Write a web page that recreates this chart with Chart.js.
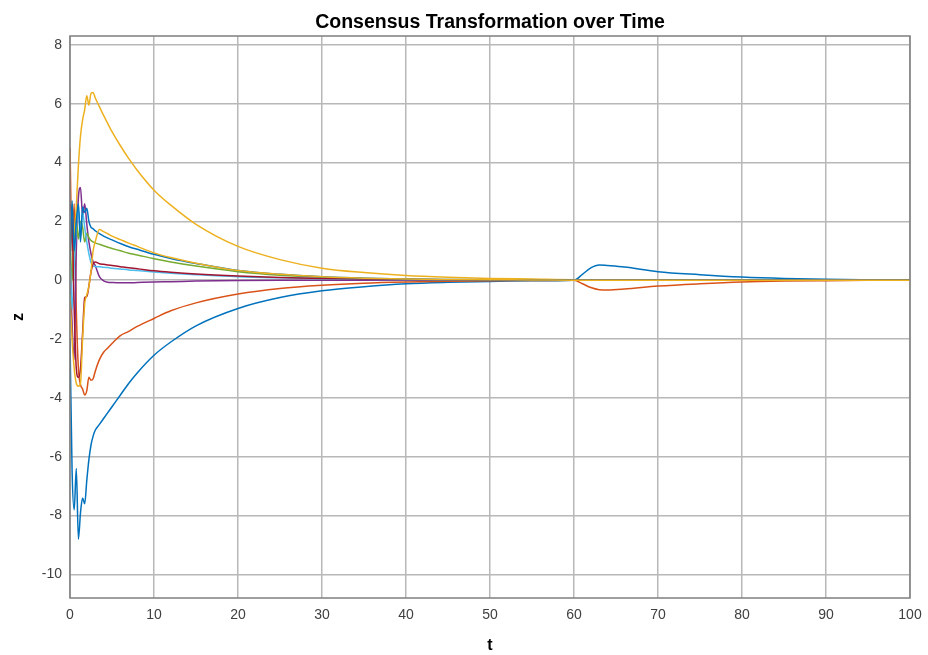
<!DOCTYPE html>
<html>
<head>
<meta charset="utf-8">
<title>Consensus Transformation over Time</title>
<script src="https://cdn.jsdelivr.net/npm/chart.js@4.4.0/dist/chart.umd.min.js"></script>
<style>
    html, body { margin: 0; padding: 0; background: #fff; }
    canvas { display: block; }
</style>
</head>
<body>
<canvas id="consensusChart" width="928" height="655"></canvas>
<script>
// sample times (dense at the start, where everything jumps around)
const t = [0, 0.25, 0.5, 0.75, 1, 1.25, 1.5, 1.75, 2, 2.25,
           2.5, 2.75, 3, 3.5, 4, 4.5, 5, 6, 7, 8,
           10, 12, 15, 20, 25, 30, 35, 40, 45, 50,
           55, 60, 61, 62, 63, 64, 66, 70, 75, 80,
           85, 90, 95, 100];

// values, one list per agent
const zBlue1 = [-2.0, -6.5, -7.8, -6.4, -8.8, -7.9, -7.4, -7.6, -6.8, -6.1,
                -5.6, -5.3, -5.1, -4.9, -4.7, -4.5, -4.3, -3.9, -3.5, -3.15,
                -2.55, -2.1, -1.55, -0.96, -0.59, -0.36, -0.22, -0.12, -0.07, -0.04,
                -0.02, 0, 0.2, 0.42, 0.52, 0.5, 0.45, 0.29, 0.19, 0.11,
                0.06, 0.03, 0.015, 0.005];
const zOrange = [4.5, 1.0, 2.6, -1.0, -3.0, -3.55, -3.7, -3.9, -3.75, -3.3,
                 -3.4, -3.35, -3.1, -2.7, -2.45, -2.3, -2.15, -1.88, -1.74, -1.57,
                 -1.3, -1.04, -0.77, -0.47, -0.28, -0.17, -0.1, -0.06, -0.035, -0.02,
                 -0.01, 0, -0.12, -0.25, -0.32, -0.33, -0.3, -0.2, -0.12, -0.06,
                 -0.03, -0.015, -0.005, 0];
const zYellow1 = [-0.5, 0.2, 1.5, 2.5, 3.9, 4.9, 5.45, 5.8, 6.27, 5.95,
                  6.35, 6.38, 6.2, 5.9, 5.6, 5.32, 5.05, 4.57, 4.13, 3.74,
                  3.06, 2.55, 1.9, 1.15, 0.7, 0.41, 0.26, 0.16, 0.1, 0.06,
                  0.04, 0.02, 0.02, 0.02, 0.02, 0.02, 0.015, 0.01, 0.005, 0,
                  0, 0, 0, 0];
const zPurple = [0.5, -1.5, -2.7, 1.0, 2.8, 3.15, 2.2, 2.6, 1.9, 1.3,
                 0.9, 0.62, 0.5, 0.12, -0.02, -0.07, -0.08, -0.09, -0.09, -0.08,
                 -0.06, -0.05, -0.03, -0.01, 0, 0, 0, 0, 0, 0,
                 0, 0, 0, 0, 0, 0, 0, 0, 0, 0,
                 0, 0, 0, 0];
const zGreen = [1.5, 0.0, 1.0, 2.0, 1.4, 2.0, 1.8, 1.3, 1.6, 1.45,
                1.35, 1.3, 1.27, 1.22, 1.17, 1.12, 1.08, 1.0, 0.92, 0.86,
                0.73, 0.62, 0.48, 0.29, 0.17, 0.1, 0.06, 0.035, 0.02, 0.01,
                0.005, 0, 0, 0, 0, 0, 0, 0, 0, 0,
                0, 0, 0, 0];
const zCyan = [1.0, -1.0, 0.5, 1.8, 2.4, 1.5, 2.3, 1.8, 1.3, 0.9,
               0.6, 0.48, 0.47, 0.46, 0.44, 0.43, 0.41, 0.38, 0.35, 0.33,
               0.28, 0.24, 0.19, 0.12, 0.08, 0.05, 0.03, 0.02, 0.01, 0.005,
               0, 0, 0, 0, 0, 0, 0, 0, 0, 0,
               0, 0, 0, 0];
const zDarkRed = [2.6, 2.0, -1.0, -3.0, -3.3, -3.0, -1.8, -0.6, -0.55, -0.2,
                  0.28, 0.56, 0.62, 0.56, 0.54, 0.52, 0.5, 0.46, 0.42, 0.39,
                  0.32, 0.27, 0.21, 0.14, 0.09, 0.06, 0.04, 0.025, 0.015, 0.01,
                  0.005, 0, 0, 0, 0, 0, 0, 0, 0, 0,
                  0, 0, 0, 0];
const zBlue2 = [0.5, 2.7, 1.0, 2.0, 2.6, 1.3, 2.5, 2.3, 2.45, 2.0,
                1.8, 1.75, 1.68, 1.58, 1.5, 1.43, 1.37, 1.25, 1.14, 1.05,
                0.88, 0.74, 0.57, 0.33, 0.2, 0.12, 0.07, 0.04, 0.025, 0.015,
                0.01, 0, 0, 0, 0, 0, 0, 0, 0, 0,
                0, 0, 0, 0];
const zYellow2 = [-0.5, -2.0, -3.0, -3.5, -3.6, -3.5, -2.0, -0.8, -0.5, -0.2,
                  0.3, 1.0, 1.3, 1.72, 1.65, 1.58, 1.5, 1.38, 1.26, 1.15,
                  0.93, 0.77, 0.58, 0.33, 0.2, 0.12, 0.07, 0.04, 0.025, 0.015,
                  0.01, 0, 0, 0, 0, 0, 0, 0, 0, 0,
                  0, 0, 0, 0];

const series = [zBlue1, zOrange, zYellow1, zPurple, zGreen, zCyan, zDarkRed, zBlue2, zYellow2];
const seriesColors = ['#0072BD', '#D95319', '#EDB120', '#7E2F8E', '#77AC30', '#4DBEEE', '#A2142F', '#0072BD', '#EDB120'];

const xTicks = [0, 10, 20, 30, 40, 50, 60, 70, 80, 90, 100];
const yTicks = [-10, -8, -6, -4, -2, 0, 2, 4, 6, 8];

const FONT = "'Liberation Sans', Arial, Helvetica, sans-serif";
const GRID = '#b8b8b8';
const TICK_TEXT = '#404040';

// box around the axes + the title, drawn on top like matlab does
const axesFrame = {
    id: 'axesFrame',
    afterDraw(chart) {
        const { ctx, chartArea: a } = chart;
        ctx.save();
        ctx.strokeStyle = '#7f7f7f';
        ctx.lineWidth = 1.5;
        ctx.strokeRect(a.left, a.top, a.right - a.left, a.bottom - a.top);

        ctx.fillStyle = '#000';
        ctx.font = `bold 19.5px ${FONT}`;
        ctx.textAlign = 'center';
        ctx.textBaseline = 'alphabetic';
        ctx.fillText('Consensus Transformation over Time', (a.left + a.right) / 2, 28);
        ctx.restore();
    }
};

function buildDatasets() {
    return series.map((values, i) => ({
        data: values.map((v, k) => ({ x: t[k], y: v })),
        borderColor: seriesColors[i],
        borderWidth: 1.5,
        pointRadius: 0,
        fill: false,
        cubicInterpolationMode: 'monotone',
        // later series on top, as in the original
        order: series.length - i
    }));
}

function init() {
    const ctx = document.getElementById('consensusChart').getContext('2d');
    new Chart(ctx, {
        type: 'line',
        data: { datasets: buildDatasets() },
        options: {
            responsive: false,
            animation: false,
            layout: { padding: { top: 36, right: 18, left: 0, bottom: 0 } },
            plugins: { legend: { display: false }, tooltip: { enabled: false }, title: { display: false } },
            scales: {
                x: {
                    type: 'linear',
                    min: 0,
                    max: 100,
                    afterBuildTicks: (s) => { s.ticks = xTicks.map(v => ({ value: v })); },
                    afterFit: (s) => {
                        s.height = 57;
                        // the "100" label may hang over, don't let it shrink the plot
                        s.paddingLeft = 0;
                        s.paddingRight = 0;
                    },
                    grid: { color: GRID, lineWidth: 1.5, drawTicks: false },
                    border: { display: false },
                    ticks: { padding: 9, color: TICK_TEXT, font: { family: FONT, size: 14 }, maxRotation: 0 },
                    title: { display: true, text: 't', color: '#000', font: { family: FONT, size: 16, weight: 'bold' }, padding: { top: 0, bottom: 0 } }
                },
                y: {
                    type: 'linear',
                    min: -10.8,
                    max: 8.3,
                    afterBuildTicks: (s) => { s.ticks = yTicks.map(v => ({ value: v })); },
                    afterFit: (s) => { s.width = 70; },
                    grid: { color: GRID, lineWidth: 1.5, drawTicks: false },
                    border: { display: false },
                    ticks: { padding: 8, color: TICK_TEXT, font: { family: FONT, size: 14 } },
                    title: { display: true, text: 'z', color: '#000', font: { family: FONT, size: 16, weight: 'bold' }, padding: { top: 9, bottom: 0 } }
                }
            }
        },
        plugins: [axesFrame]
    });
}

init();
</script>
</body>
</html>
